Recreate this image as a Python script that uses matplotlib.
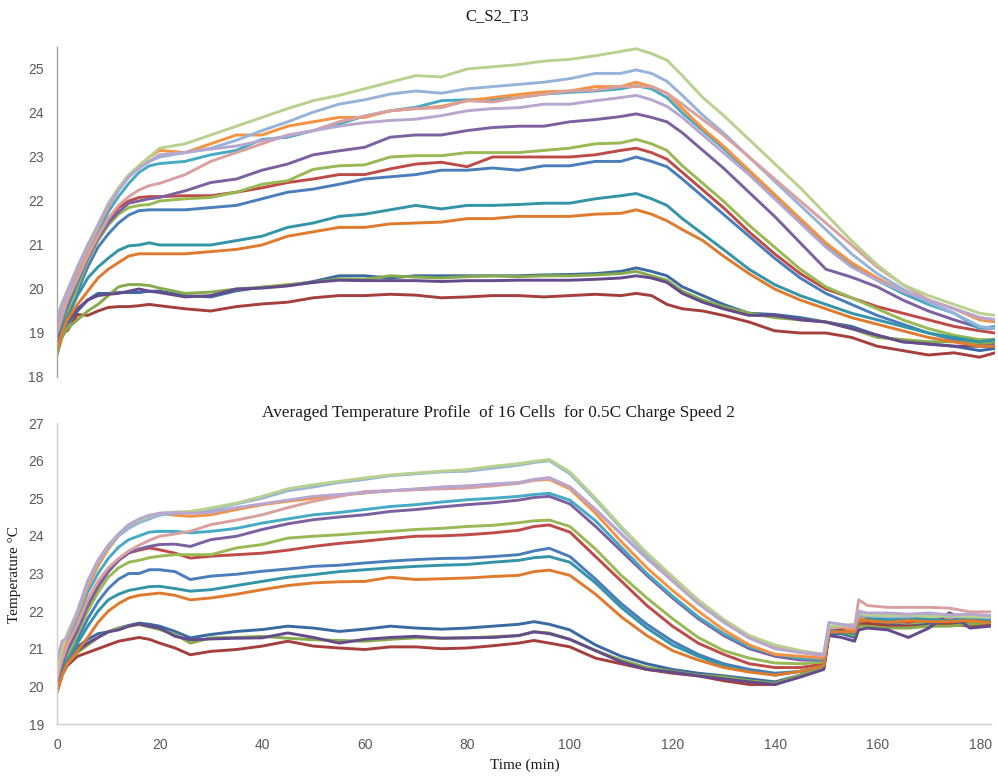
import matplotlib
matplotlib.use("Agg")
import matplotlib.pyplot as plt

# ---------------- time bases (minutes) ----------------
T_TOP = [0, 1, 2, 4, 6, 8, 10, 12, 14, 16, 18, 20, 25, 30, 35, 40, 45, 50, 55, 60,
         65, 70, 75, 80, 85, 90, 95, 100, 105, 110, 113, 116, 119, 122, 126, 130,
         135, 140, 145, 150, 155, 160, 165, 170, 175, 180, 183]

T_BOT = [0, 1, 2, 4, 6, 8, 10, 12, 14, 16, 18, 20, 23, 26, 30, 35, 40, 45, 50, 55,
         60, 65, 70, 75, 80, 85, 90, 93, 96, 100, 105, 110, 115, 120, 125, 130, 135,
         140, 145, 149.5, 150.5, 153, 155.5, 156.3, 158, 162, 166, 170, 174, 178, 182]

Y_TICKS_TOP = [18, 19, 20, 21, 22, 23, 24, 25]
Y_TICKS_BOT = [19, 20, 21, 22, 23, 24, 25, 26, 27]
X_TICKS_BOT = [0, 20, 40, 60, 80, 100, 120, 140, 160, 180]

# ---------------- C_S2_T3 cell temperatures (deg C) ----------------
top_blue = [18.6, 19.0, 19.35, 19.95, 20.5, 20.95, 21.25, 21.5, 21.68, 21.78, 21.8, 21.8,
            21.8, 21.85, 21.9, 22.05, 22.2, 22.27, 22.38, 22.5, 22.55, 22.6, 22.7, 22.7, 22.75, 22.7, 22.8, 22.8, 22.9, 22.9,
            23.0, 22.9, 22.78, 22.5, 22.1, 21.7,
            21.2, 20.7, 20.25, 19.9, 19.65, 19.4, 19.2, 19.0, 18.85, 18.75, 18.75]
top_red = [18.7, 19.1, 19.5, 20.1, 20.7, 21.2, 21.55, 21.85, 22.0, 22.08, 22.1, 22.1,
           22.12, 22.12, 22.2, 22.3, 22.42, 22.5, 22.6, 22.6, 22.73, 22.84, 22.88, 22.78, 23.0, 23.0, 23.0, 23.0, 23.05, 23.15,
           23.2, 23.1, 22.95, 22.65, 22.25, 21.85,
           21.3, 20.8, 20.35, 20.0, 19.8, 19.6, 19.45, 19.3, 19.15, 19.05, 19.0]
top_green = [18.5, 19.0, 19.4, 20.05, 20.65, 21.1, 21.45, 21.7, 21.85, 21.9, 21.92, 22.0,
             22.05, 22.08, 22.2, 22.38, 22.46, 22.72, 22.8, 22.82, 23.0, 23.03, 23.03, 23.1, 23.1, 23.1, 23.15, 23.2, 23.3, 23.32,
             23.4, 23.3, 23.15, 22.8, 22.4, 22.0,
             21.45, 20.95, 20.45, 20.05, 19.8, 19.55, 19.3, 19.1, 18.95, 18.85, 18.85]
top_purple = [18.9, 19.3, 19.6, 20.15, 20.7, 21.15, 21.5, 21.75, 21.95, 22.0, 22.05, 22.08,
              22.23, 22.42, 22.5, 22.7, 22.84, 23.05, 23.14, 23.22, 23.45, 23.5, 23.5, 23.6, 23.67, 23.7, 23.7, 23.8, 23.85, 23.92,
              23.98, 23.9, 23.8, 23.55, 23.15, 22.75,
              22.2, 21.65, 21.05, 20.45, 20.27, 20.05, 19.75, 19.5, 19.3, 19.12, 19.1]
top_cyan = [18.9, 19.3, 19.7, 20.2, 20.75, 21.25, 21.75, 22.1, 22.4, 22.65, 22.8, 22.85,
            22.9, 23.05, 23.15, 23.4, 23.45, 23.6, 23.75, 23.93, 24.05, 24.13, 24.28, 24.3, 24.3, 24.35, 24.43, 24.47, 24.5, 24.55,
            24.62, 24.55, 24.35, 24.0, 23.6, 23.2,
            22.65, 22.1, 21.55, 21.0, 20.55, 20.2, 19.9, 19.65, 19.45, 19.1, 19.15]
top_orange = [19.0, 19.4, 19.8, 20.35, 20.9, 21.4, 21.85, 22.25, 22.55, 22.8, 23.0, 23.15,
              23.1, 23.3, 23.5, 23.5, 23.7, 23.8, 23.9, 23.9, 24.05, 24.1, 24.15, 24.28, 24.35, 24.42, 24.48, 24.5, 24.6, 24.6,
              24.7, 24.6, 24.45, 24.1, 23.65, 23.25,
              22.7, 22.15, 21.6, 21.05, 20.6, 20.25, 19.95, 19.75, 19.55, 19.3, 19.25]
top_dark_blue = [18.7, 19.0, 19.2, 19.5, 19.75, 19.9, 19.9, 19.92, 19.92, 19.92, 19.95, 19.95,
                 19.85, 19.82, 19.96, 20.04, 20.08, 20.17, 20.3, 20.3, 20.25, 20.3, 20.3, 20.3, 20.3, 20.3, 20.32, 20.33, 20.35, 20.4,
                 20.48, 20.4, 20.3, 20.05, 19.85, 19.65,
                 19.45, 19.42, 19.35, 19.25, 19.15, 18.95, 18.8, 18.75, 18.7, 18.6, 18.65]
top_dark_red = [18.8, 19.0, 19.05, 19.42, 19.4, 19.5, 19.58, 19.6, 19.6, 19.62, 19.65, 19.62,
                19.55, 19.5, 19.6, 19.66, 19.7, 19.8, 19.85, 19.85, 19.88, 19.86, 19.8, 19.82, 19.85, 19.85, 19.82, 19.85, 19.88, 19.85,
                19.9, 19.85, 19.65, 19.55, 19.5, 19.4,
                19.25, 19.05, 19.0, 19.0, 18.9, 18.7, 18.6, 18.5, 18.55, 18.45, 18.55]
top_dark_green = [18.5, 18.9, 19.1, 19.3, 19.5, 19.65, 19.85, 20.05, 20.1, 20.1, 20.08, 20.02,
                  19.9, 19.93, 20.0, 20.04, 20.1, 20.15, 20.23, 20.22, 20.3, 20.27, 20.25, 20.28, 20.3, 20.28, 20.3, 20.3, 20.32, 20.35,
                  20.4, 20.3, 20.2, 19.95, 19.75, 19.6,
                  19.45, 19.35, 19.3, 19.25, 19.1, 18.9, 18.85, 18.8, 18.8, 18.75, 18.8]
top_dark_purple = [18.8, 19.1, 19.3, 19.55, 19.75, 19.85, 19.88, 19.9, 19.95, 20.0, 19.95, 19.92,
                   19.82, 19.85, 20.0, 20.02, 20.07, 20.15, 20.2, 20.19, 20.19, 20.19, 20.17, 20.19, 20.19, 20.2, 20.2, 20.2, 20.22, 20.25,
                   20.3, 20.25, 20.15, 19.9, 19.7, 19.55,
                   19.4, 19.4, 19.3, 19.25, 19.1, 18.95, 18.8, 18.75, 18.7, 18.7, 18.7]
top_teal = [18.6, 19.1, 19.35, 19.85, 20.25, 20.5, 20.7, 20.88, 20.98, 21.0, 21.05, 21.0,
            21.0, 21.0, 21.1, 21.2, 21.4, 21.5, 21.65, 21.7, 21.8, 21.9, 21.82, 21.9, 21.9, 21.92, 21.95, 21.95, 22.05, 22.12,
            22.17, 22.05, 21.9, 21.6, 21.25, 20.9,
            20.45, 20.1, 19.85, 19.65, 19.45, 19.3, 19.15, 19.0, 18.9, 18.8, 18.85]
top_dark_orange = [18.6, 19.0, 19.3, 19.65, 19.95, 20.25, 20.45, 20.6, 20.75, 20.8, 20.8, 20.8,
                   20.8, 20.85, 20.9, 21.0, 21.2, 21.3, 21.4, 21.4, 21.48, 21.5, 21.52, 21.6, 21.6, 21.65, 21.65, 21.65, 21.7, 21.72,
                   21.8, 21.7, 21.55, 21.35, 21.1, 20.75,
                   20.35, 20.0, 19.75, 19.55, 19.35, 19.2, 19.05, 18.9, 18.8, 18.7, 18.7]
top_light_blue = [19.2, 19.6, 19.9, 20.45, 20.95, 21.45, 21.9, 22.25, 22.55, 22.75, 22.9, 23.0,
                  23.1, 23.2, 23.38, 23.6, 23.8, 24.02, 24.2, 24.3, 24.43, 24.5, 24.45, 24.55, 24.6, 24.65, 24.7, 24.78, 24.9, 24.9,
                  24.98, 24.9, 24.72, 24.4, 23.95, 23.55,
                  23.0, 22.45, 21.9, 21.35, 20.8, 20.35, 20.0, 19.7, 19.45, 19.15, 19.1]
top_pink = [19.0, 19.4, 19.75, 20.25, 20.75, 21.2, 21.6, 21.9, 22.1, 22.25, 22.35, 22.4,
            22.6, 22.9, 23.1, 23.3, 23.5, 23.6, 23.8, 23.93, 24.05, 24.1, 24.12, 24.28, 24.25, 24.35, 24.43, 24.5, 24.52, 24.6,
            24.6, 24.6, 24.45, 24.2, 23.85, 23.5,
            23.0, 22.5, 22.0, 21.5, 21.0, 20.5, 20.1, 19.75, 19.55, 19.35, 19.3]
top_light_green = [19.35, 19.7, 19.95, 20.5, 21.0, 21.45, 21.95, 22.3, 22.6, 22.8, 23.0, 23.2,
                   23.3, 23.5, 23.7, 23.9, 24.1, 24.28, 24.4, 24.55, 24.7, 24.85, 24.82, 25.0, 25.05, 25.1, 25.18, 25.22, 25.3, 25.4,
                   25.46, 25.35, 25.2, 24.85, 24.35, 23.95,
                   23.4, 22.85, 22.3, 21.7, 21.1, 20.55, 20.1, 19.85, 19.65, 19.45, 19.4]
top_lavender = [19.3, 19.65, 19.95, 20.5, 21.0, 21.45, 21.9, 22.25, 22.55, 22.75, 22.9, 23.05,
                23.1, 23.18, 23.25, 23.37, 23.48, 23.6, 23.7, 23.78, 23.83, 23.86, 23.94, 24.05, 24.1, 24.12, 24.2, 24.2, 24.28, 24.35,
                24.4, 24.3, 24.15, 23.9, 23.5, 23.1,
                22.6, 22.05, 21.5, 20.95, 20.5, 20.2, 19.95, 19.75, 19.55, 19.35, 19.3]

# ---------------- 16-cell average, 0.5C charge speed 2 (deg C) ----------------
bot_blue = [19.9, 20.4, 20.75, 21.25, 21.8, 22.25, 22.6, 22.85, 23.0, 23.0, 23.1, 23.1,
            23.05, 22.84, 22.93, 22.98, 23.06, 23.12, 23.19, 23.22, 23.28, 23.33, 23.37, 23.4, 23.41, 23.45, 23.5, 23.6, 23.67,
            23.45, 22.85, 22.2, 21.65, 21.2, 20.85, 20.6, 20.45, 20.35, 20.4, 20.55,
            21.45, 21.45, 21.35, 21.75, 21.72, 21.7, 21.72, 21.7, 21.75, 21.72, 21.72]
bot_red = [20.0, 20.5, 20.9, 21.5, 22.1, 22.65, 23.05, 23.35, 23.55, 23.62, 23.68, 23.63,
           23.54, 23.41, 23.46, 23.5, 23.54, 23.62, 23.72, 23.8, 23.86, 23.93, 23.99, 24.0, 24.03, 24.08, 24.15, 24.25, 24.29,
           24.1, 23.45, 22.8, 22.15, 21.6, 21.15, 20.85, 20.6, 20.5, 20.5, 20.6,
           21.4, 21.45, 21.4, 21.7, 21.72, 21.72, 21.7, 21.65, 21.95, 21.75, 21.7]
bot_green = [19.85, 20.4, 20.8, 21.4, 22.0, 22.5, 22.9, 23.15, 23.3, 23.35, 23.42, 23.46,
             23.5, 23.5, 23.5, 23.68, 23.77, 23.94, 23.99, 24.03, 24.08, 24.12, 24.17, 24.2, 24.25, 24.28, 24.35, 24.4, 24.42,
             24.25, 23.65, 22.95, 22.35, 21.8, 21.3, 20.95, 20.75, 20.62, 20.6, 20.65,
             21.5, 21.5, 21.4, 21.75, 21.7, 21.65, 21.62, 21.72, 21.7, 21.75, 21.75]
bot_purple = [20.1, 20.6, 20.95, 21.5, 22.15, 22.65, 23.05, 23.35, 23.55, 23.65, 23.72, 23.77,
              23.78, 23.72, 23.9, 23.99, 24.17, 24.32, 24.43, 24.5, 24.56, 24.65, 24.7, 24.77, 24.83, 24.88, 24.95, 25.02, 25.05,
              24.85, 24.25, 23.6, 22.95, 22.35, 21.8, 21.35, 21.0, 20.8, 20.7, 20.7,
              21.5, 21.45, 21.45, 21.8, 21.78, 21.75, 21.75, 21.78, 21.75, 21.9, 21.78]
bot_cyan = [20.5, 20.9, 21.2, 21.8, 22.5, 23.0, 23.4, 23.7, 23.9, 24.0, 24.1, 24.12,
            24.12, 24.08, 24.12, 24.2, 24.34, 24.45, 24.56, 24.62, 24.7, 24.78, 24.83, 24.9, 24.96, 25.0, 25.05, 25.1, 25.13,
            24.95, 24.4, 23.7, 23.0, 22.4, 21.85, 21.4, 21.05, 20.85, 20.75, 20.72,
            21.55, 21.5, 21.55, 21.85, 21.9, 21.85, 21.8, 21.82, 21.85, 21.82, 21.85]
bot_orange = [20.3, 20.9, 21.3, 21.9, 22.65, 23.2, 23.65, 24.0, 24.25, 24.4, 24.5, 24.6,
              24.55, 24.52, 24.56, 24.7, 24.83, 24.92, 25.0, 25.08, 25.14, 25.2, 25.23, 25.28, 25.32, 25.35, 25.4, 25.48, 25.5,
              25.25, 24.6, 23.85, 23.15, 22.55, 22.0, 21.5, 21.1, 20.85, 20.8, 20.75,
              21.5, 21.55, 21.5, 21.8, 21.8, 21.78, 21.8, 21.78, 21.8, 21.72, 21.75]
bot_dark_blue = [19.9, 20.4, 20.7, 21.05, 21.25, 21.4, 21.45, 21.55, 21.62, 21.68, 21.65, 21.6,
                 21.46, 21.29, 21.38, 21.46, 21.51, 21.6, 21.55, 21.46, 21.52, 21.6, 21.55, 21.52, 21.55, 21.6, 21.65, 21.72, 21.65,
                 21.5, 21.1, 20.8, 20.6, 20.45, 20.35, 20.28, 20.2, 20.12, 20.3, 20.5,
                 21.4, 21.4, 21.3, 21.6, 21.65, 21.65, 21.6, 21.65, 21.7, 21.65, 21.62]
bot_dark_red = [19.85, 20.3, 20.55, 20.8, 20.9, 21.0, 21.1, 21.2, 21.25, 21.3, 21.25, 21.15,
                21.02, 20.84, 20.93, 20.98, 21.07, 21.2, 21.07, 21.02, 20.98, 21.05, 21.05, 21.0, 21.02, 21.08, 21.15, 21.22, 21.15,
                21.05, 20.75, 20.6, 20.45, 20.35, 20.28, 20.15, 20.05, 20.05, 20.3, 20.5,
                21.45, 21.5, 21.35, 21.65, 21.68, 21.6, 21.6, 21.6, 21.65, 21.6, 21.65]
bot_dark_green = [19.85, 20.3, 20.6, 20.9, 21.1, 21.3, 21.45, 21.55, 21.6, 21.64, 21.58, 21.51,
                  21.38, 21.15, 21.29, 21.3, 21.33, 21.28, 21.24, 21.22, 21.2, 21.25, 21.29, 21.28, 21.29, 21.32, 21.35, 21.45, 21.42,
                  21.25, 20.95, 20.7, 20.5, 20.4, 20.3, 20.25, 20.15, 20.08, 20.3, 20.5,
                  21.45, 21.45, 21.35, 21.6, 21.6, 21.55, 21.55, 21.6, 21.6, 21.65, 21.7]
bot_dark_purple = [19.9, 20.35, 20.65, 20.95, 21.15, 21.3, 21.45, 21.5, 21.6, 21.66, 21.6, 21.55,
                   21.33, 21.24, 21.26, 21.28, 21.29, 21.42, 21.3, 21.15, 21.25, 21.3, 21.33, 21.28, 21.29, 21.3, 21.35, 21.45, 21.4,
                   21.25, 20.95, 20.65, 20.45, 20.38, 20.28, 20.2, 20.12, 20.05, 20.25, 20.45,
                   21.35, 21.3, 21.2, 21.5, 21.55, 21.5, 21.3, 21.55, 21.95, 21.55, 21.6]
bot_teal = [19.9, 20.35, 20.7, 21.15, 21.6, 22.0, 22.3, 22.45, 22.55, 22.6, 22.65, 22.66,
            22.6, 22.53, 22.57, 22.68, 22.79, 22.9, 22.97, 23.05, 23.1, 23.15, 23.19, 23.22, 23.24, 23.3, 23.35, 23.42, 23.45,
            23.3, 22.75, 22.1, 21.55, 21.1, 20.8, 20.55, 20.4, 20.3, 20.4, 20.55,
            21.5, 21.45, 21.4, 21.7, 21.8, 21.78, 21.8, 21.78, 21.75, 21.8, 21.75]
bot_dark_orange = [19.85, 20.3, 20.6, 20.95, 21.3, 21.7, 22.0, 22.2, 22.35, 22.42, 22.45, 22.48,
                   22.42, 22.3, 22.35, 22.45, 22.57, 22.68, 22.75, 22.78, 22.79, 22.9, 22.84, 22.86, 22.88, 22.92, 22.95, 23.05, 23.09,
                   22.95, 22.45, 21.85, 21.35, 20.95, 20.7, 20.5, 20.38, 20.3, 20.4, 20.55,
                   21.45, 21.45, 21.45, 21.75, 21.75, 21.7, 21.75, 21.72, 21.72, 21.75, 21.7]
bot_light_blue = [20.6, 21.1, 21.35, 21.95, 22.75, 23.3, 23.7, 24.0, 24.2, 24.35, 24.45, 24.55,
                  24.6, 24.62, 24.68, 24.85, 25.0, 25.2, 25.3, 25.42, 25.5, 25.6, 25.65, 25.7, 25.72, 25.8, 25.88, 25.95, 26.0,
                  25.65, 24.95, 24.2, 23.5, 22.88, 22.28, 21.75, 21.3, 21.05, 20.92, 20.82,
                  21.55, 21.6, 21.62, 21.9, 21.88, 21.85, 21.85, 21.9, 21.85, 21.85, 21.82]
bot_pink = [20.2, 20.7, 21.1, 21.65, 22.3, 22.8, 23.15, 23.4, 23.6, 23.75, 23.88, 23.99,
            24.05, 24.12, 24.3, 24.42, 24.56, 24.75, 24.92, 25.05, 25.18, 25.2, 25.23, 25.25, 25.27, 25.33, 25.4, 25.48, 25.52,
            25.3, 24.7, 24.05, 23.4, 22.82, 22.25, 21.75, 21.3, 21.05, 20.9, 20.8,
            21.55, 21.58, 21.55, 22.3, 22.15, 22.1, 22.1, 22.1, 22.08, 21.98, 21.98]
bot_light_green = [20.4, 21.0, 21.4, 22.0, 22.8, 23.35, 23.75, 24.05, 24.3, 24.42, 24.52, 24.6,
                   24.63, 24.65, 24.74, 24.87, 25.05, 25.25, 25.36, 25.45, 25.54, 25.62, 25.67, 25.72, 25.76, 25.85, 25.92, 25.98, 26.03,
                   25.7, 25.0, 24.25, 23.55, 22.92, 22.3, 21.78, 21.35, 21.1, 20.95, 20.85,
                   21.6, 21.62, 21.65, 21.95, 21.9, 21.88, 21.9, 21.85, 21.88, 21.85, 21.85]
bot_lavender = [20.7, 21.2, 21.3, 22.0, 22.8, 23.35, 23.75, 24.05, 24.3, 24.45, 24.55, 24.6,
                24.62, 24.6, 24.62, 24.75, 24.85, 24.95, 25.05, 25.1, 25.15, 25.2, 25.25, 25.3, 25.33, 25.38, 25.42, 25.5, 25.55,
                25.3, 24.7, 24.05, 23.4, 22.8, 22.2, 21.7, 21.28, 21.0, 20.9, 20.85,
                21.7, 21.65, 21.6, 22.0, 21.95, 21.95, 21.92, 21.95, 21.9, 21.92, 21.88]

# series colours, in drawing order
COLORS = ["#4A7EBB", "#BE4B48", "#98B954", "#7D60A0", "#46AAC5", "#F69240",
          "#3B6AA3", "#A53F3D", "#87AB4C", "#654A8C", "#3494A8", "#DF7A2E",
          "#96B3DA", "#D9A0A0", "#B9D18F", "#B7A6CE"]

TOP_SERIES = [top_blue, top_red, top_green, top_purple, top_cyan, top_orange,
              top_dark_blue, top_dark_red, top_dark_green, top_dark_purple, top_teal, top_dark_orange,
              top_light_blue, top_pink, top_light_green, top_lavender]
BOT_SERIES = [bot_blue, bot_red, bot_green, bot_purple, bot_cyan, bot_orange,
              bot_dark_blue, bot_dark_red, bot_dark_green, bot_dark_purple, bot_teal, bot_dark_orange,
              bot_light_blue, bot_pink, bot_light_green, bot_lavender]

SERIF = ["Liberation Serif", "DejaVu Serif"]
SANS = ["Liberation Sans", "DejaVu Sans"]
TICK_COLOR = "#595959"
LW = 2.1

fig = plt.figure(figsize=(9.98, 7.77), dpi=100)
W, H = 998.0, 777.0

# ---- upper panel ----
ax1 = fig.add_axes([57 / W, 1 - 377 / H, (995 - 57) / W, (377 - 47) / H])
for vals, c in zip(TOP_SERIES, COLORS):
    ax1.plot(T_TOP, vals, color=c, lw=LW, solid_joinstyle="round", solid_capstyle="round")
ax1.set_xlim(0, 183)
ax1.set_ylim(18, 25.5)
ax1.set_yticks(Y_TICKS_TOP)
ax1.set_xticks([])
for s in ["top", "right", "bottom"]:
    ax1.spines[s].set_visible(False)
ax1.spines["left"].set_color("#A6A6A6")
ax1.spines["left"].set_linewidth(1.0)
ax1.tick_params(axis="y", length=0, pad=9.5, labelsize=10, labelcolor=TICK_COLOR)
for lab in ax1.get_yticklabels():
    lab.set_family(SANS)
fig.text(497 / W, 1 - 16 / H, "C_S2_T3", ha="center", va="center",
         fontsize=12, family=SERIF, color="#1A1A1A")

# ---- lower panel ----
ax2 = fig.add_axes([57 / W, 1 - 724 / H, (991 - 57) / W, (724 - 423) / H])
for vals, c in zip(BOT_SERIES, COLORS):
    ax2.plot(T_BOT, vals, color=c, lw=LW, solid_joinstyle="round", solid_capstyle="round")
ax2.set_xlim(0, 182.1)
ax2.set_ylim(19, 27)
ax2.set_yticks(Y_TICKS_BOT)
ax2.set_xticks(X_TICKS_BOT)
for s in ["top", "right"]:
    ax2.spines[s].set_visible(False)
for s in ["left", "bottom"]:
    ax2.spines[s].set_color("#CFCFCF")
    ax2.spines[s].set_linewidth(1.0)
ax2.tick_params(axis="y", length=0, pad=9.5, labelsize=10, labelcolor=TICK_COLOR)
ax2.tick_params(axis="x", length=0, pad=10, labelsize=10, labelcolor=TICK_COLOR)
for lab in ax2.get_yticklabels() + ax2.get_xticklabels():
    lab.set_family(SANS)
fig.text(498 / W, 1 - 413 / H,
         "Averaged Temperature Profile  of 16 Cells  for 0.5C Charge Speed 2",
         ha="center", va="center", fontsize=12.4, family=SERIF, color="#1A1A1A")
fig.text(15 / W, 1 - 575 / H, "Temperature \u00b0C", rotation=90, ha="center", va="center",
         fontsize=11, family=SERIF, color="#1A1A1A")
fig.text(525 / W, 1 - 765 / H, "Time (min)", ha="center", va="center",
         fontsize=11, family=SERIF, color="#1A1A1A")

fig.savefig("out.png", dpi=100)
